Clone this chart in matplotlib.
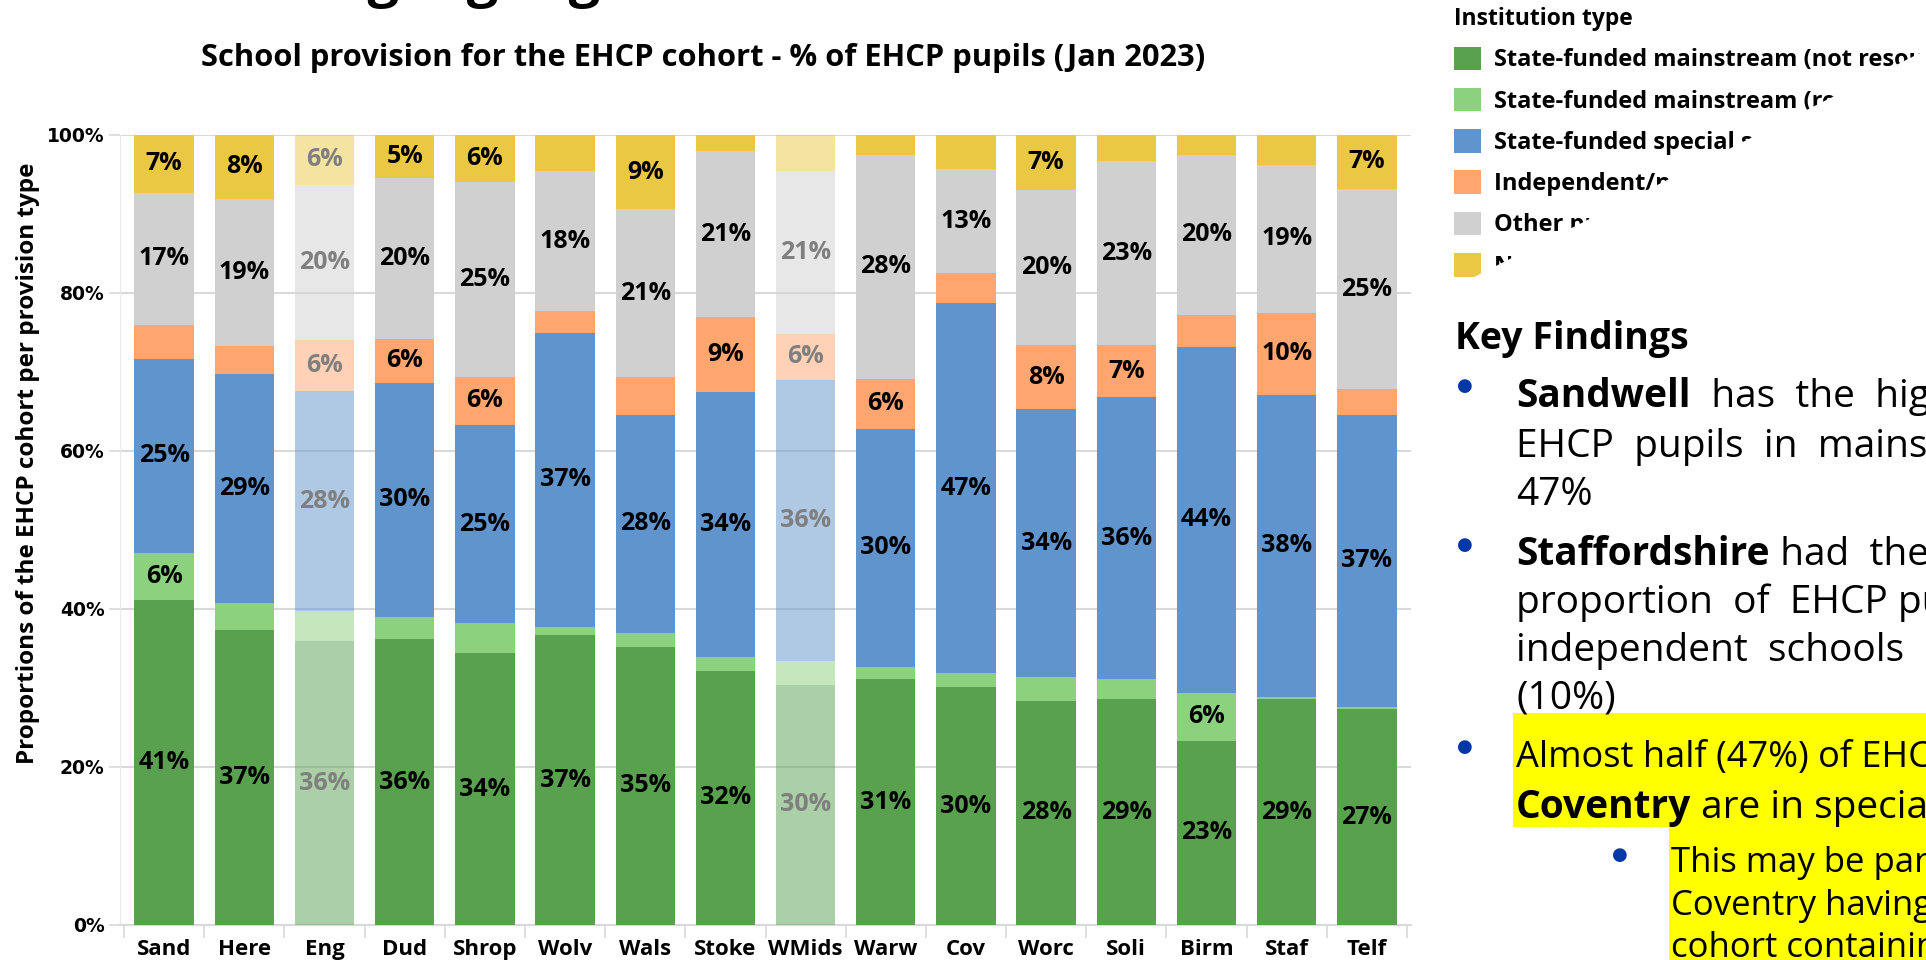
import matplotlib
matplotlib.use('Agg')
import matplotlib.pyplot as plt
import numpy as np
from matplotlib.colors import to_rgba
from matplotlib.patches import Polygon, Rectangle

# Data: % of EHCP pupils per provision type (Jan 2023)
# ----------------------------------------------------
areas = ['Sand', 'Here', 'Eng', 'Dud', 'Shrop', 'Wolv', 'Wals', 'Stoke',
         'WMids', 'Warw', 'Cov', 'Worc', 'Soli', 'Birm', 'Staf', 'Telf']
mainstream = [41.1, 37.4, 35.9, 36.2, 34.4, 36.7, 35.2, 32.2, 30.4, 31.1, 30.1, 28.4, 28.6, 23.3, 28.6, 27.3]
resourced = [6.0, 3.3, 3.8, 2.8, 3.8, 1.0, 1.8, 1.7, 3.0, 1.6, 1.8, 3.0, 2.5, 6.1, 0.3, 0.3]
special = [24.6, 29.1, 27.9, 29.6, 25.1, 37.3, 27.6, 33.6, 35.6, 30.1, 46.8, 33.9, 35.7, 43.8, 38.2, 37.0]
independent = [4.3, 3.5, 6.4, 5.6, 6.1, 2.7, 4.8, 9.4, 5.8, 6.3, 3.8, 8.1, 6.6, 4.0, 10.4, 3.2]
other = [16.7, 18.6, 19.7, 20.4, 24.6, 17.7, 21.2, 21.1, 20.7, 28.4, 13.2, 19.6, 23.3, 20.3, 18.7, 25.4]
none_ = [7.3, 8.1, 6.3, 5.4, 6.0, 4.6, 9.4, 2.0, 4.5, 2.5, 4.3, 7.0, 3.3, 2.5, 3.8, 6.8]
faded = ['Eng', 'WMids']

series = [mainstream, resourced, special, independent, other, none_]
names = ['State-funded mainstream (not resourced provision)',
         'State-funded mainstream (resourced provision/SEN unit)',
         'State-funded special school',
         'Independent/non-maintained special school',
         'Other provision',
         'None']
colors = ['#59A14F', '#8CD17D', '#6094CD', '#FFA56F', '#D0D0D0', '#EBC844']

W, H = 1926, 960
plt.rcParams['font.family'] = ['Open Sans', 'DejaVu Sans']

def fx(x):
    return x / W

def fy(y):
    return 1 - y / H

fig = plt.figure(figsize=(W / 100, H / 100), dpi=100)
ax_left, ax_right = 120, 1411
ax = fig.add_axes([fx(ax_left), fy(925), fx(ax_right) - fx(ax_left), fy(135) - fy(925)])

x = np.arange(len(areas))
bottom = np.zeros(len(areas))
containers = []
for vals, col, name in zip(series, colors, names):
    vals = np.array(vals)
    cols = [to_rgba(col, 0.5 if a in faded else 1.0) for a in areas]
    bc = ax.bar(x, vals, 0.74, bottom=bottom, color=cols, label=name, zorder=3)
    containers.append(bc)
    for i, v in enumerate(vals):
        if v >= 5:
            ax.text(x[i], bottom[i] + v / 2, '{:.0f}%'.format(v), ha='center', va='center',
                    fontsize=18, fontweight='bold',
                    color='#7F7F7F' if areas[i] in faded else 'black', zorder=4)
    bottom += vals

ax.set_xlim(-0.55, len(areas) - 0.45)
ax.set_ylim(0, 100)
ax.set_yticks(range(0, 101, 20))
ax.set_yticklabels(['{}%'.format(t) for t in range(0, 101, 20)],
                   fontsize=13.5, fontweight='bold', family='DejaVu Sans')
ax.set_xticks(x)
ax.set_xticklabels(areas, fontsize=16, fontweight='bold')
ax.set_xticks(np.arange(-0.5, len(areas), 1), minor=True)
ax.tick_params(axis='x', which='major', length=0, pad=10)
ax.tick_params(axis='x', which='minor', length=9, color='#D9D9D9', width=1.2)
ax.tick_params(axis='y', length=8, color='#D9D9D9', width=1.2, pad=3)
ax.grid(axis='y', color='#D9D9D9', linewidth=1.5, zorder=0)
for s in ['top', 'right']:
    ax.spines[s].set_visible(False)
ax.spines['left'].set_color('#EBEBEB')
ax.spines['bottom'].set_color('#D9D9D9')
ax.spines['bottom'].set_linewidth(1.5)
ax.set_ylabel('Proportions of the EHCP cohort per provision type', fontsize=17.5,
              fontweight='bold')
ax.yaxis.set_label_coords((40 - ax_left) / (ax_right - ax_left), 0.585)

fig.text(fx(703), fy(58), 'School provision for the EHCP cohort - % of EHCP pupils (Jan 2023)',
         ha='center', va='center', fontsize=22.2, fontweight='bold')

# cropped slide heading at the very top
fig.text(fx(10), fy(-4), 'School setting highlights: West Midlands', ha='left', va='baseline',
         fontsize=40, fontweight='bold')

# Legend (partly covered on the slide)
leg = fig.legend(containers, names, loc='upper left', bbox_to_anchor=(fx(1454), fy(7)),
                 title='Institution type', frameon=False, fontsize=17, alignment='left',
                 title_fontproperties={'weight': 'bold', 'size': 16.5},
                 handlelength=1.15, handleheight=1.15, handletextpad=0.55,
                 labelspacing=0.66, borderaxespad=0, borderpad=0)
for t in leg.get_texts():
    t.set_fontweight('bold')

cover = Polygon([(fx(1926), fy(50)), (fx(1472), fy(278)), (fx(1926), fy(278))],
                closed=True, transform=fig.transFigure, facecolor='white',
                edgecolor='none', zorder=10)
fig.add_artist(cover)

# Key findings text box
renderer = fig.canvas.get_renderer()

def rich_line(x0, y0, parts, size):
    xx = x0
    for txt, weight in parts:
        t = fig.text(fx(xx), fy(y0), txt, ha='left', va='baseline', fontsize=size,
                     fontweight=weight, zorder=12)
        xx += t.get_window_extent(renderer).width

fig.add_artist(Rectangle((fx(1513), fy(827)), fx(W) - fx(1513), fy(713) - fy(827),
                         transform=fig.transFigure, facecolor='#FFFF00', edgecolor='none', zorder=11))
fig.add_artist(Rectangle((fx(1669), fy(H)), fx(W) - fx(1669), fy(827) - fy(H),
                         transform=fig.transFigure, facecolor='#FFFF00', edgecolor='none', zorder=11))

fig.text(fx(1455), fy(349), 'Key Findings', ha='left', va='baseline', fontsize=27,
         fontweight='bold', zorder=12)

bullet_color = '#0038A8'
for bx, by in [(1465, 386), (1465, 545), (1465, 747), (1620, 855)]:
    fig.text(fx(bx), fy(by), '\u25CF', ha='center', va='center', fontsize=13,
             color=bullet_color, zorder=12, family='DejaVu Sans')

fs = 28
rich_line(1516, 407, [('Sandwell', 'bold'), ('  has  the  highest proportion of', 'normal')], fs)
rich_line(1516, 457, [('EHCP  pupils  in  mainstream schools at', 'normal')], fs)
rich_line(1516, 505, [('47%', 'normal')], fs)
rich_line(1516, 565, [('Staffordshire', 'bold'), (' had  the highest', 'normal')], fs)
rich_line(1516, 613, [('proportion  of  EHCP pupils in', 'normal')], fs)
rich_line(1516, 661, [('independent  schools', 'normal')], fs)
rich_line(1516, 708, [('(10%)', 'normal')], fs)
rich_line(1516, 767, [('Almost half (47%) of EHCP pupils in', 'normal')], 26)
rich_line(1516, 818, [('Coventry', 'bold'), (' are in special schools', 'normal')], fs)
rich_line(1671, 872, [('This may be partly due to', 'normal')], 25)
rich_line(1671, 915, [('Coventry having a larger', 'normal')], 25)
rich_line(1671, 957, [('cohort containing more', 'normal')], 25)

fig.savefig('out.png', dpi=100)
